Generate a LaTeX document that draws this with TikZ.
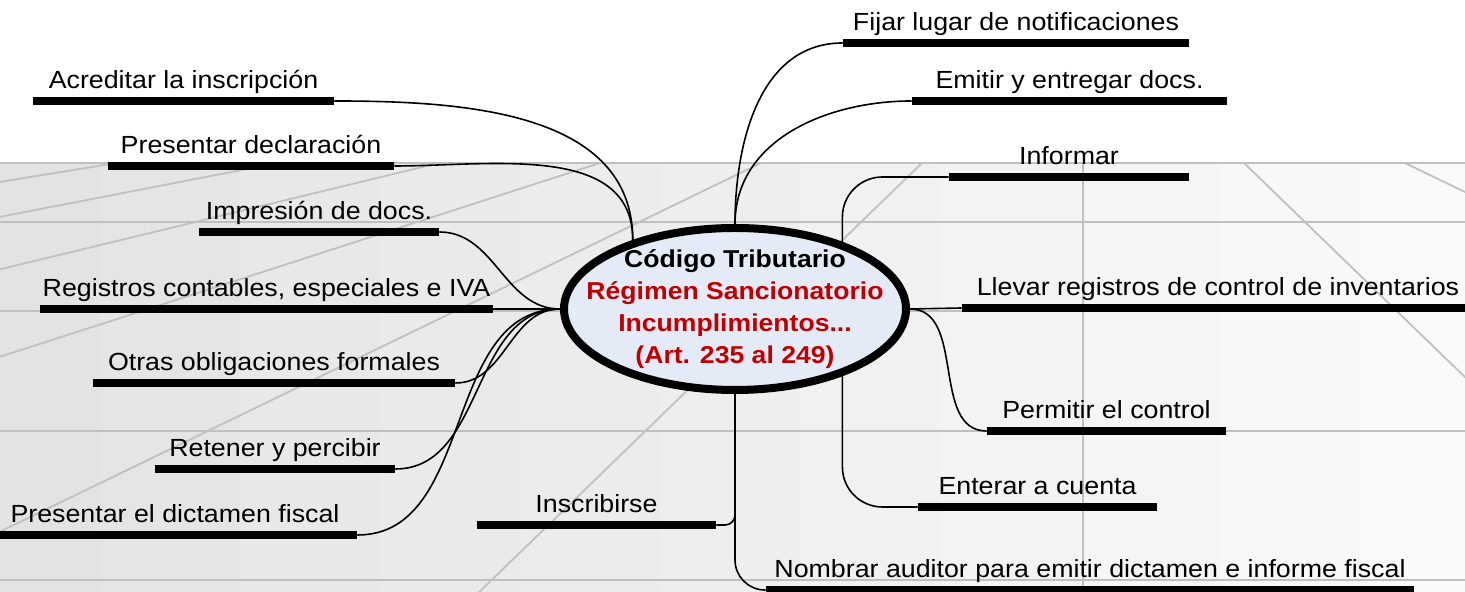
\documentclass[tikz,border=0pt]{standalone}
\usepackage{fontspec}
\setmainfont{Liberation Sans}
\newfontfamily\lblfont[FakeStretch=1.08]{Liberation Sans}
\newfontfamily\hubfont[FakeStretch=1.09]{Liberation Sans}
\usepackage{tikz}
\usetikzlibrary{shapes.geometric}
\definecolor{floorLine}{RGB}{192,192,192}
\definecolor{hubFill}{RGB}{228,235,247}
\definecolor{hubRed}{RGB}{192,0,0}
\tikzstyle{branchNode} = [rectangle, anchor=south, inner xsep=0pt, inner ysep=6pt, text depth=0pt, font=\lblfont\fontsize{12.4}{14}\selectfont]
\tikzstyle{hub} = [ellipse, draw=black, line width=4pt, fill=hubFill, minimum width=171pt, minimum height=81pt]
\tikzstyle{hubText} = [align=center, text=hubRed, font=\hubfont\bfseries\fontsize{12.2}{16}\selectfont]
\tikzstyle{bar} = [line width=4pt]
\tikzstyle{link} = [line width=0.8pt]
\tikzstyle{gridLine} = [floorLine, line width=0.9pt]

\begin{document}
\begin{tikzpicture}[x=0.5pt, y=0.5pt]
    \useasboundingbox (0,0) rectangle (1465,592);
    % floor
    \fill[white] (0,429) rectangle (1465,592);
    \foreach \i in {0,...,10} {
        \pgfmathsetmacro\dk{11-0.9*\i}
        \fill[black!\dk] ({max(0,140*\i-40)},0) rectangle ({min(1465,140*\i+100)},429);
    }
    \foreach \yy in {429,370,281,161,12} \draw[gridLine] (0,\yy) -- (1465,\yy);
    \begin{scope}
        \clip (0,0) rectangle (1465,429);
        \foreach \k in {-6,...,2} \draw[gridLine] (1083,585) -- ({1083+644*\k},-39);
    \end{scope}

    % centre
    \node (code) [hub] at (735,283) {};
    \node (codeText) [hubText] at (code.center) {\textcolor{black}{Código Tributario}\\Régimen Sancionatorio\\Incumplimientos...\\(Art. 235 al 249)};
    % left branches
    \node (acred) [branchNode, minimum width=150.5pt] at (183.5,491) {Acreditar la inscripción};
    \node (presDecl) [branchNode, minimum width=143pt] at (251,426) {Presentar declaración};
    \node (impDocs) [branchNode, minimum width=120pt] at (319,360) {Impresión de docs.};
    \node (regCont) [branchNode, minimum width=226.5pt] at (266.5,283) {Registros contables, especiales e IVA};
    \node (otrasOblig) [branchNode, minimum width=181pt] at (274,209) {Otras obligaciones formales};
    \node (retener) [branchNode, minimum width=120pt] at (275,123) {Retener y percibir};
    \node (dictamen) [branchNode, minimum width=182pt] at (175,57) {Presentar el dictamen fiscal};
    \node (inscrib) [branchNode, minimum width=119.5pt] at (596.5,67) {Inscribirse};
    % right branches
    \node (fijar) [branchNode, minimum width=173pt] at (1016,549) {Fijar lugar de notificaciones};
    \node (emitir) [branchNode, minimum width=157.5pt] at (1069.5,491) {Emitir y entregar docs.};
    \node (informar) [branchNode, minimum width=120pt] at (1069,415) {Informar};
    \node (llevar) [branchNode, minimum width=256pt] at (1218,284) {Llevar registros de control de inventarios};
    \node (permitir) [branchNode, minimum width=119.5pt] at (1106.5,161) {Permitir el control};
    \node (enterar) [branchNode, minimum width=119.5pt] at (1037.5,85) {Enterar a cuenta};
    \node (nombrar) [branchNode, minimum width=324pt] at (1090,2) {Nombrar auditor para emitir dictamen e informe fiscal};

    % bars
    \draw [bar] (acred.south west) -- (acred.south east);
    \draw [bar] (presDecl.south west) -- (presDecl.south east);
    \draw [bar] (impDocs.south west) -- (impDocs.south east);
    \draw [bar] (regCont.south west) -- (regCont.south east);
    \draw [bar] (otrasOblig.south west) -- (otrasOblig.south east);
    \draw [bar] (retener.south west) -- (retener.south east);
    \draw [bar] (dictamen.south west) -- (dictamen.south east);
    \draw [bar] (inscrib.south west) -- (inscrib.south east);
    \draw [bar] (fijar.south west) -- (fijar.south east);
    \draw [bar] (emitir.south west) -- (emitir.south east);
    \draw [bar] (informar.south west) -- (informar.south east);
    \draw [bar] (llevar.south west) -- (llevar.south east);
    \draw [bar] (permitir.south west) -- (permitir.south east);
    \draw [bar] (enterar.south west) -- (enterar.south east);
    \draw [bar] (nombrar.south west) -- (nombrar.south east);

    % links to the centre
    \draw [link] (acred.south east) to[out=0,in=90] (code.146);
    \draw [link] (presDecl.south east) to[out=0,in=90] (code.146);
    \draw [link] (impDocs.south east) to[out=0,in=180] (code.west);
    \draw [link] (regCont.south east) -- (code.west);
    \draw [link] (otrasOblig.south east) to[out=0,in=180] (code.west);
    \draw [link] (retener.south east) to[out=0,in=180] (code.west);
    \draw [link] (dictamen.south east) to[out=0,in=180] (code.west);
    \draw [link, rounded corners=5pt] (code.south) |- (inscrib.south east);
    %
    \draw [link] (code.north) to[out=90,in=180] (fijar.south west);
    \draw [link] (code.north) to[out=90,in=180] (emitir.south west);
    \draw [link, rounded corners=20pt] (code.32) |- (informar.south west);
    \draw [link] (code.east) -- (llevar.south west);
    \draw [link] (code.east) to[out=0,in=180] (permitir.south west);
    \draw [link, rounded corners=20pt] (code.-32) |- (enterar.south west);
    \draw [link, rounded corners=15pt] (code.south) |- (nombrar.south west);
\end{tikzpicture}
\end{document}
